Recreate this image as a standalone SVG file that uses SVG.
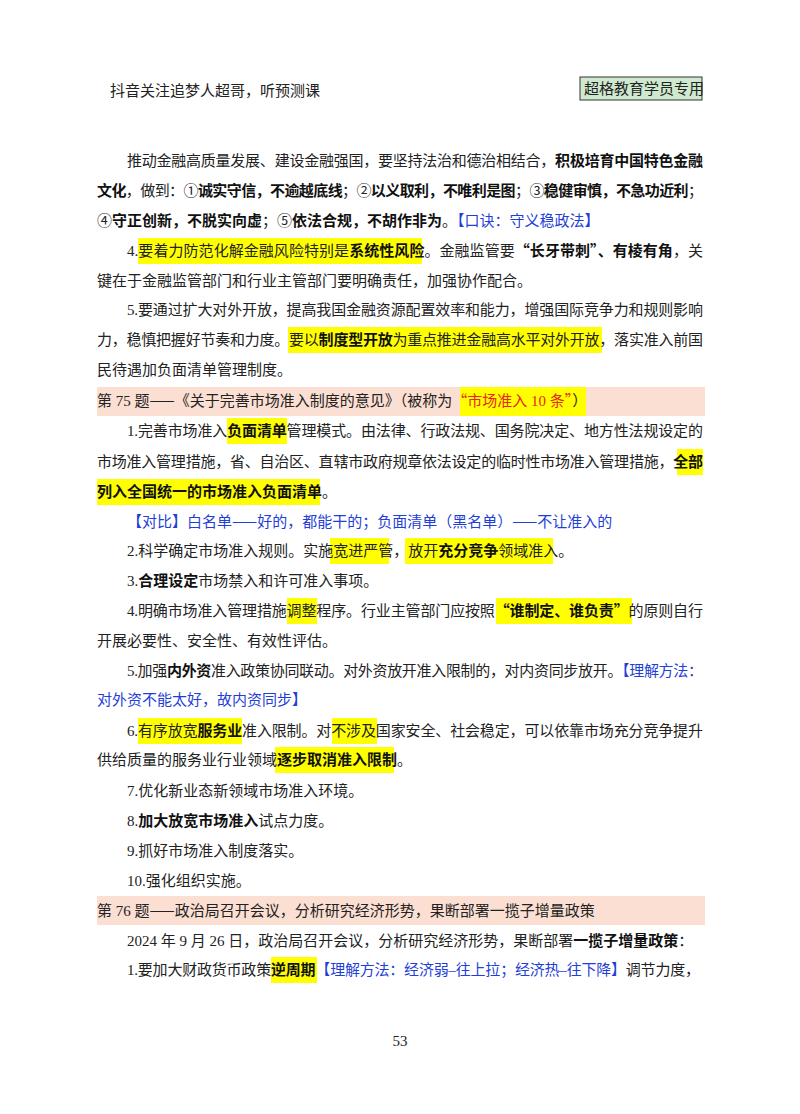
<svg xmlns="http://www.w3.org/2000/svg" width="800" height="1114" viewBox="0 0 800 1114">
<style>
text{font-family:"Liberation Serif","Noto Sans CJK SC",serif;font-size:15px;fill:#222}
.b{font-weight:bold;fill:#111}
.bl{fill:#1f3fd6}
.rd{fill:#e8261c}
.cj{font-family:"Noto Sans CJK SC",sans-serif}
.hl{fill:#ffff00}
.band{fill:#fbdfd2}
</style>
<rect width="800" height="1114" fill="#fff"/>
<g id="header">
<text x="110" y="96">抖音关注追梦人超哥，听预测课</text>
<rect x="580" y="77" width="122" height="23" fill="#cfe9cf" stroke="#333" stroke-width="1"/>
<text x="584" y="94">超格教育学员专用</text>
</g>
<g id="highlights">
<rect class="hl" x="138" y="238" width="284" height="26"/>
<rect class="hl" x="288" y="327" width="314" height="26"/>
<rect class="band" x="97" y="387" width="608" height="29"/>
<rect class="hl" x="460" y="387" width="126" height="29"/>
<rect class="hl" x="227" y="418" width="60" height="26"/>
<rect class="hl" x="677" y="449" width="26" height="26"/>
<rect class="hl" x="97" y="479" width="223" height="26"/>
<rect class="hl" x="330" y="538" width="59" height="26"/>
<rect class="hl" x="405" y="538" width="148" height="26"/>
<rect class="hl" x="287" y="598" width="30" height="26"/>
<rect class="hl" x="496" y="598" width="136" height="26"/>
<rect class="hl" x="138" y="718" width="104" height="26"/>
<rect class="hl" x="332" y="718" width="45" height="26"/>
<rect class="hl" x="275" y="747" width="119" height="26"/>
<rect class="band" x="97" y="896" width="608" height="29"/>
<rect class="hl" x="271" y="957" width="46" height="26"/>
</g>
<g id="body">
<text x="127" y="166" textLength="576" lengthAdjust="spacing">推动金融高质量发展、建设金融强国，要坚持法治和德治相结合，<tspan class="b">积极培育中国特色金融</tspan></text>
<text x="97" y="196" textLength="606" lengthAdjust="spacing"><tspan class="b">文化</tspan>，做到：①<tspan class="b">诚实守信，不逾越底线</tspan>；②<tspan class="b">以义取利，不唯利是图</tspan>；③<tspan class="b">稳健审慎，不急功近利</tspan>；</text>
<text x="97" y="226">④<tspan class="b">守正创新，不脱实向虚</tspan>；⑤<tspan class="b">依法合规，不胡作非为</tspan>。<tspan class="bl">【口诀：守义稳政法】</tspan></text>
<text x="127" y="256" textLength="576" lengthAdjust="spacing">4.要着力防范化解金融风险特别是<tspan class="b">系统性风险</tspan>。金融监管要<tspan class="b"><tspan class="cj">“</tspan>长牙带刺<tspan class="cj">”</tspan>、有棱有角</tspan>，关</text>
<text x="97" y="286">键在于金融监管部门和行业主管部门要明确责任，加强协作配合。</text>
<text x="127" y="315" textLength="576" lengthAdjust="spacing">5.要通过扩大对外开放，提高我国金融资源配置效率和能力，增强国际竞争力和规则影响</text>
<text x="97" y="345" textLength="606" lengthAdjust="spacing">力，稳慎把握好节奏和力度。要以<tspan class="b">制度型开放</tspan>为重点推进金融高水平对外开放，落实准入前国</text>
<text x="97" y="375">民待遇加负面清单管理制度。</text>
<text x="97" y="406">第 75 题<tspan class="cj">——</tspan>《关于完善市场准入制度的意见》（被称为<tspan class="rd"><tspan class="cj">“</tspan>市场准入 10 条<tspan class="cj">”</tspan></tspan>）</text>
<text x="127" y="436" textLength="576" lengthAdjust="spacing">1.完善市场准入<tspan class="b">负面清单</tspan>管理模式。由法律、行政法规、国务院决定、地方性法规设定的</text>
<text x="97" y="467" textLength="606" lengthAdjust="spacing">市场准入管理措施，省、自治区、直辖市政府规章依法设定的临时性市场准入管理措施，<tspan class="b">全部</tspan></text>
<text x="97" y="497"><tspan class="b">列入全国统一的市场准入负面清单</tspan>。</text>
<text x="127" y="527" class="bl">【对比】白名单<tspan class="cj">——</tspan>好的，都能干的；负面清单（黑名单）<tspan class="cj">——</tspan>不让准入的</text>
<text x="127" y="556">2.科学确定市场准入规则。实施宽进严管，放开<tspan class="b">充分竞争</tspan>领域准入。</text>
<text x="127" y="586">3.<tspan class="b">合理设定</tspan>市场禁入和许可准入事项。</text>
<text x="127" y="616" textLength="576" lengthAdjust="spacing">4.明确市场准入管理措施调整程序。行业主管部门应按照<tspan class="b"><tspan class="cj">“</tspan>谁制定、谁负责<tspan class="cj">”</tspan></tspan>的原则自行</text>
<text x="97" y="646">开展必要性、安全性、有效性评估。</text>
<text x="127" y="676" textLength="576" lengthAdjust="spacing">5.加强<tspan class="b">内外资</tspan>准入政策协同联动。对外资放开准入限制的，对内资同步放开。<tspan class="bl">【理解方法：</tspan></text>
<text x="97" y="705" class="bl">对外资不能太好，故内资同步】</text>
<text x="127" y="736" textLength="576" lengthAdjust="spacing">6.有序放宽<tspan class="b">服务业</tspan>准入限制。对不涉及国家安全、社会稳定，可以依靠市场充分竞争提升</text>
<text x="97" y="765">供给质量的服务业行业领域<tspan class="b">逐步取消准入限制</tspan>。</text>
<text x="127" y="796">7.优化新业态新领域市场准入环境。</text>
<text x="127" y="826">8.<tspan class="b">加大放宽市场准入</tspan>试点力度。</text>
<text x="127" y="856">9.抓好市场准入制度落实。</text>
<text x="127" y="886">10.强化组织实施。</text>
<text x="97" y="916">第 76 题<tspan class="cj">——</tspan>政治局召开会议，分析研究经济形势，果断部署一揽子增量政策</text>
<text x="127" y="946">2024 年 9 月 26 日，政治局召开会议，分析研究经济形势，果断部署<tspan class="b">一揽子增量政策</tspan>：</text>
<text x="127" y="975" textLength="573" lengthAdjust="spacing">1.要加大财政货币政策<tspan class="b">逆周期</tspan><tspan class="bl">【理解方法：经济弱–往上拉；经济热–往下降】</tspan>调节力度，</text>
</g>
<text x="400" y="1046" text-anchor="middle" font-size="13">53</text>
</svg>
